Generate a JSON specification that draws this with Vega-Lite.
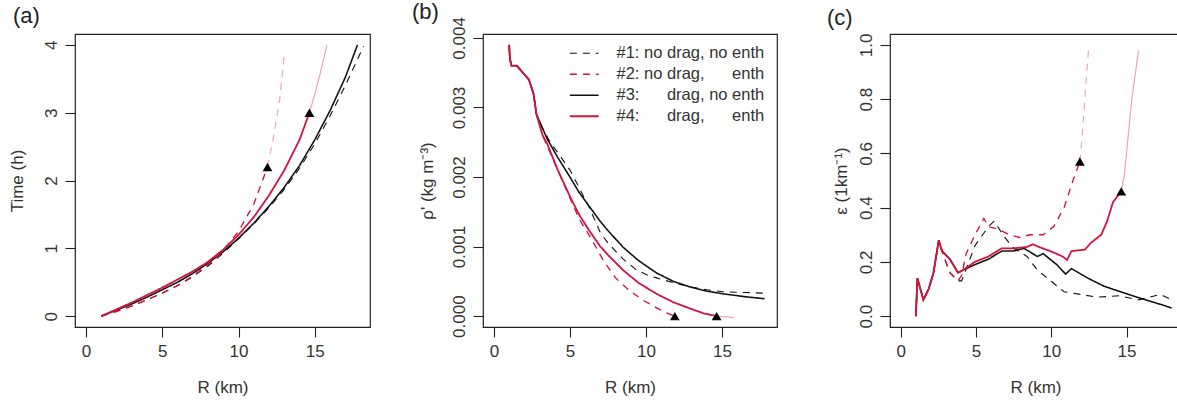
{
  "$schema": "https://vega.github.io/schema/vega-lite/v6.json",
  "autosize": {"type": "none"},
  "padding": {"left": 75, "top": 34, "right": 1102, "bottom": 368},
  "background": "white",
  "datasets": {
    "time": [
      {"run": "#1", "seg": "main", "R": 1, "v": 0}, {"run": "#1", "seg": "main", "R": 2, "v": 0.07}, {"run": "#1", "seg": "main", "R": 3, "v": 0.15}, {"run": "#1", "seg": "main", "R": 4, "v": 0.24}, {"run": "#1", "seg": "main", "R": 5, "v": 0.34}, {"run": "#1", "seg": "main", "R": 6, "v": 0.45}, {"run": "#1", "seg": "main", "R": 7, "v": 0.58}, {"run": "#1", "seg": "main", "R": 8, "v": 0.74}, {"run": "#1", "seg": "main", "R": 9, "v": 0.93}, {"run": "#1", "seg": "main", "R": 10, "v": 1.14}, {"run": "#1", "seg": "main", "R": 11, "v": 1.36}, {"run": "#1", "seg": "main", "R": 12, "v": 1.6}, {"run": "#1", "seg": "main", "R": 13, "v": 1.87}, {"run": "#1", "seg": "main", "R": 14, "v": 2.18}, {"run": "#1", "seg": "main", "R": 15, "v": 2.54}, {"run": "#1", "seg": "main", "R": 16, "v": 2.95}, {"run": "#1", "seg": "main", "R": 17, "v": 3.4}, {"run": "#1", "seg": "main", "R": 18.2, "v": 3.98},
      {"run": "#3", "seg": "main", "R": 1, "v": 0}, {"run": "#3", "seg": "main", "R": 2, "v": 0.09}, {"run": "#3", "seg": "main", "R": 3, "v": 0.18}, {"run": "#3", "seg": "main", "R": 4, "v": 0.28}, {"run": "#3", "seg": "main", "R": 5, "v": 0.39}, {"run": "#3", "seg": "main", "R": 6, "v": 0.5}, {"run": "#3", "seg": "main", "R": 7, "v": 0.63}, {"run": "#3", "seg": "main", "R": 8, "v": 0.78}, {"run": "#3", "seg": "main", "R": 9, "v": 0.95}, {"run": "#3", "seg": "main", "R": 10, "v": 1.15}, {"run": "#3", "seg": "main", "R": 11, "v": 1.37}, {"run": "#3", "seg": "main", "R": 12, "v": 1.62}, {"run": "#3", "seg": "main", "R": 13, "v": 1.9}, {"run": "#3", "seg": "main", "R": 14, "v": 2.22}, {"run": "#3", "seg": "main", "R": 15, "v": 2.6}, {"run": "#3", "seg": "main", "R": 16, "v": 3.03}, {"run": "#3", "seg": "main", "R": 17, "v": 3.52}, {"run": "#3", "seg": "main", "R": 17.8, "v": 4.0},
      {"run": "#2", "seg": "main", "R": 1, "v": 0}, {"run": "#2", "seg": "main", "R": 2, "v": 0.07}, {"run": "#2", "seg": "main", "R": 3, "v": 0.15}, {"run": "#2", "seg": "main", "R": 4, "v": 0.24}, {"run": "#2", "seg": "main", "R": 5, "v": 0.34}, {"run": "#2", "seg": "main", "R": 6, "v": 0.45}, {"run": "#2", "seg": "main", "R": 7, "v": 0.59}, {"run": "#2", "seg": "main", "R": 8, "v": 0.76}, {"run": "#2", "seg": "main", "R": 9, "v": 0.97}, {"run": "#2", "seg": "main", "R": 10, "v": 1.25}, {"run": "#2", "seg": "main", "R": 11, "v": 1.65}, {"run": "#2", "seg": "main", "R": 11.9, "v": 2.2},
      {"run": "#2", "seg": "ext", "R": 11.9, "v": 2.2}, {"run": "#2", "seg": "ext", "R": 12.3, "v": 2.65}, {"run": "#2", "seg": "ext", "R": 12.7, "v": 3.2}, {"run": "#2", "seg": "ext", "R": 13.0, "v": 3.85},
      {"run": "#4", "seg": "main", "R": 1, "v": 0}, {"run": "#4", "seg": "main", "R": 2, "v": 0.1}, {"run": "#4", "seg": "main", "R": 3, "v": 0.2}, {"run": "#4", "seg": "main", "R": 4, "v": 0.31}, {"run": "#4", "seg": "main", "R": 5, "v": 0.42}, {"run": "#4", "seg": "main", "R": 6, "v": 0.54}, {"run": "#4", "seg": "main", "R": 7, "v": 0.66}, {"run": "#4", "seg": "main", "R": 8, "v": 0.8}, {"run": "#4", "seg": "main", "R": 9, "v": 0.98}, {"run": "#4", "seg": "main", "R": 10, "v": 1.2}, {"run": "#4", "seg": "main", "R": 11, "v": 1.46}, {"run": "#4", "seg": "main", "R": 12, "v": 1.78}, {"run": "#4", "seg": "main", "R": 13, "v": 2.15}, {"run": "#4", "seg": "main", "R": 14, "v": 2.6}, {"run": "#4", "seg": "main", "R": 14.65, "v": 3.0},
      {"run": "#4", "seg": "ext", "R": 14.65, "v": 3.0}, {"run": "#4", "seg": "ext", "R": 15.0, "v": 3.27}, {"run": "#4", "seg": "ext", "R": 15.4, "v": 3.62}, {"run": "#4", "seg": "ext", "R": 15.8, "v": 4.0}
    ],
    "rho": [
      {"run": "#1", "seg": "main", "R": 1.0, "v": 0.0039}, {"run": "#1", "seg": "main", "R": 1.05, "v": 0.0037}, {"run": "#1", "seg": "main", "R": 1.15, "v": 0.0036}, {"run": "#1", "seg": "main", "R": 1.5, "v": 0.0036}, {"run": "#1", "seg": "main", "R": 1.9, "v": 0.0035}, {"run": "#1", "seg": "main", "R": 2.3, "v": 0.0034}, {"run": "#1", "seg": "main", "R": 2.6, "v": 0.0032}, {"run": "#1", "seg": "main", "R": 2.8, "v": 0.0029}, {"run": "#1", "seg": "main", "R": 3.2, "v": 0.0027}, {"run": "#1", "seg": "main", "R": 3.7, "v": 0.0025}, {"run": "#1", "seg": "main", "R": 4.2, "v": 0.00235}, {"run": "#1", "seg": "main", "R": 5.0, "v": 0.0021}, {"run": "#1", "seg": "main", "R": 5.6, "v": 0.00185}, {"run": "#1", "seg": "main", "R": 6.3, "v": 0.00155}, {"run": "#1", "seg": "main", "R": 7.0, "v": 0.0012}, {"run": "#1", "seg": "main", "R": 7.5, "v": 0.00105}, {"run": "#1", "seg": "main", "R": 8.5, "v": 0.00082}, {"run": "#1", "seg": "main", "R": 9.4, "v": 0.00066}, {"run": "#1", "seg": "main", "R": 10.2, "v": 0.00058}, {"run": "#1", "seg": "main", "R": 10.7, "v": 0.00055}, {"run": "#1", "seg": "main", "R": 11.8, "v": 0.00048}, {"run": "#1", "seg": "main", "R": 12.9, "v": 0.00042}, {"run": "#1", "seg": "main", "R": 14.0, "v": 0.00038}, {"run": "#1", "seg": "main", "R": 15.1, "v": 0.00035}, {"run": "#1", "seg": "main", "R": 16.5, "v": 0.00034}, {"run": "#1", "seg": "main", "R": 17.8, "v": 0.00033},
      {"run": "#3", "seg": "main", "R": 1.0, "v": 0.0039}, {"run": "#3", "seg": "main", "R": 1.05, "v": 0.0037}, {"run": "#3", "seg": "main", "R": 1.15, "v": 0.0036}, {"run": "#3", "seg": "main", "R": 1.5, "v": 0.0036}, {"run": "#3", "seg": "main", "R": 1.9, "v": 0.0035}, {"run": "#3", "seg": "main", "R": 2.3, "v": 0.0034}, {"run": "#3", "seg": "main", "R": 2.6, "v": 0.0032}, {"run": "#3", "seg": "main", "R": 2.8, "v": 0.0029}, {"run": "#3", "seg": "main", "R": 3.2, "v": 0.0027}, {"run": "#3", "seg": "main", "R": 3.5, "v": 0.00255}, {"run": "#3", "seg": "main", "R": 4.2, "v": 0.00228}, {"run": "#3", "seg": "main", "R": 5.0, "v": 0.002}, {"run": "#3", "seg": "main", "R": 5.6, "v": 0.00178}, {"run": "#3", "seg": "main", "R": 6.3, "v": 0.00157}, {"run": "#3", "seg": "main", "R": 7.0, "v": 0.00136}, {"run": "#3", "seg": "main", "R": 7.5, "v": 0.00123}, {"run": "#3", "seg": "main", "R": 8.5, "v": 0.00099}, {"run": "#3", "seg": "main", "R": 9.5, "v": 0.0008}, {"run": "#3", "seg": "main", "R": 10.7, "v": 0.00062}, {"run": "#3", "seg": "main", "R": 11.8, "v": 0.0005}, {"run": "#3", "seg": "main", "R": 12.9, "v": 0.00042}, {"run": "#3", "seg": "main", "R": 14.0, "v": 0.00036}, {"run": "#3", "seg": "main", "R": 15.1, "v": 0.00032}, {"run": "#3", "seg": "main", "R": 16.5, "v": 0.00028}, {"run": "#3", "seg": "main", "R": 17.8, "v": 0.00025},
      {"run": "#2", "seg": "main", "R": 1.0, "v": 0.0039}, {"run": "#2", "seg": "main", "R": 1.05, "v": 0.0037}, {"run": "#2", "seg": "main", "R": 1.15, "v": 0.0036}, {"run": "#2", "seg": "main", "R": 1.5, "v": 0.0036}, {"run": "#2", "seg": "main", "R": 1.9, "v": 0.0035}, {"run": "#2", "seg": "main", "R": 2.3, "v": 0.0034}, {"run": "#2", "seg": "main", "R": 2.6, "v": 0.0032}, {"run": "#2", "seg": "main", "R": 2.8, "v": 0.0029}, {"run": "#2", "seg": "main", "R": 3.2, "v": 0.0026}, {"run": "#2", "seg": "main", "R": 3.6, "v": 0.0024}, {"run": "#2", "seg": "main", "R": 4.2, "v": 0.0021}, {"run": "#2", "seg": "main", "R": 5.0, "v": 0.0017}, {"run": "#2", "seg": "main", "R": 5.6, "v": 0.0014}, {"run": "#2", "seg": "main", "R": 6.3, "v": 0.00115}, {"run": "#2", "seg": "main", "R": 7.2, "v": 0.0008}, {"run": "#2", "seg": "main", "R": 8.0, "v": 0.00055}, {"run": "#2", "seg": "main", "R": 8.9, "v": 0.00037}, {"run": "#2", "seg": "main", "R": 9.8, "v": 0.00023}, {"run": "#2", "seg": "main", "R": 10.7, "v": 0.00012}, {"run": "#2", "seg": "main", "R": 11.3, "v": 0.00005}, {"run": "#2", "seg": "main", "R": 11.9, "v": 0.0},
      {"run": "#4", "seg": "main", "R": 1.0, "v": 0.0039}, {"run": "#4", "seg": "main", "R": 1.05, "v": 0.0037}, {"run": "#4", "seg": "main", "R": 1.15, "v": 0.0036}, {"run": "#4", "seg": "main", "R": 1.5, "v": 0.0036}, {"run": "#4", "seg": "main", "R": 1.9, "v": 0.0035}, {"run": "#4", "seg": "main", "R": 2.3, "v": 0.0034}, {"run": "#4", "seg": "main", "R": 2.6, "v": 0.0032}, {"run": "#4", "seg": "main", "R": 2.8, "v": 0.0029}, {"run": "#4", "seg": "main", "R": 3.2, "v": 0.0026}, {"run": "#4", "seg": "main", "R": 3.5, "v": 0.00248}, {"run": "#4", "seg": "main", "R": 4.2, "v": 0.0021}, {"run": "#4", "seg": "main", "R": 5.0, "v": 0.00172}, {"run": "#4", "seg": "main", "R": 5.6, "v": 0.00146}, {"run": "#4", "seg": "main", "R": 6.3, "v": 0.00122}, {"run": "#4", "seg": "main", "R": 7.0, "v": 0.001}, {"run": "#4", "seg": "main", "R": 7.5, "v": 0.00088}, {"run": "#4", "seg": "main", "R": 8.5, "v": 0.00066}, {"run": "#4", "seg": "main", "R": 9.5, "v": 0.00048}, {"run": "#4", "seg": "main", "R": 10.7, "v": 0.00032}, {"run": "#4", "seg": "main", "R": 11.8, "v": 0.0002}, {"run": "#4", "seg": "main", "R": 12.9, "v": 0.00011}, {"run": "#4", "seg": "main", "R": 13.8, "v": 0.00004}, {"run": "#4", "seg": "main", "R": 14.65, "v": 0.0},
      {"run": "#4", "seg": "ext", "R": 14.65, "v": 0.0}, {"run": "#4", "seg": "ext", "R": 15.2, "v": -0.00001}, {"run": "#4", "seg": "ext", "R": 15.8, "v": -0.00002}
    ],
    "eps": [
      {"run": "#1", "seg": "main", "R": 1.0, "v": 0.0}, {"run": "#1", "seg": "main", "R": 1.1, "v": 0.14}, {"run": "#1", "seg": "main", "R": 1.5, "v": 0.06}, {"run": "#1", "seg": "main", "R": 1.85, "v": 0.1}, {"run": "#1", "seg": "main", "R": 2.17, "v": 0.16}, {"run": "#1", "seg": "main", "R": 2.52, "v": 0.28}, {"run": "#1", "seg": "main", "R": 2.86, "v": 0.22}, {"run": "#1", "seg": "main", "R": 3.26, "v": 0.16}, {"run": "#1", "seg": "main", "R": 3.8, "v": 0.13}, {"run": "#1", "seg": "main", "R": 4.04, "v": 0.13}, {"run": "#1", "seg": "main", "R": 4.93, "v": 0.26}, {"run": "#1", "seg": "main", "R": 5.82, "v": 0.33}, {"run": "#1", "seg": "main", "R": 6.21, "v": 0.35}, {"run": "#1", "seg": "main", "R": 6.91, "v": 0.29}, {"run": "#1", "seg": "main", "R": 7.5, "v": 0.25}, {"run": "#1", "seg": "main", "R": 8.39, "v": 0.22}, {"run": "#1", "seg": "main", "R": 9.07, "v": 0.17}, {"run": "#1", "seg": "main", "R": 9.96, "v": 0.13}, {"run": "#1", "seg": "main", "R": 10.85, "v": 0.09}, {"run": "#1", "seg": "main", "R": 11.94, "v": 0.08}, {"run": "#1", "seg": "main", "R": 13.02, "v": 0.07}, {"run": "#1", "seg": "main", "R": 14.5, "v": 0.075}, {"run": "#1", "seg": "main", "R": 15.78, "v": 0.06}, {"run": "#1", "seg": "main", "R": 17.26, "v": 0.08}, {"run": "#1", "seg": "main", "R": 18.0, "v": 0.06},
      {"run": "#3", "seg": "main", "R": 1.0, "v": 0.0}, {"run": "#3", "seg": "main", "R": 1.1, "v": 0.14}, {"run": "#3", "seg": "main", "R": 1.5, "v": 0.06}, {"run": "#3", "seg": "main", "R": 1.85, "v": 0.1}, {"run": "#3", "seg": "main", "R": 2.17, "v": 0.16}, {"run": "#3", "seg": "main", "R": 2.52, "v": 0.28}, {"run": "#3", "seg": "main", "R": 2.73, "v": 0.24}, {"run": "#3", "seg": "main", "R": 3.26, "v": 0.21}, {"run": "#3", "seg": "main", "R": 3.8, "v": 0.16}, {"run": "#3", "seg": "main", "R": 4.14, "v": 0.17}, {"run": "#3", "seg": "main", "R": 4.93, "v": 0.19}, {"run": "#3", "seg": "main", "R": 5.82, "v": 0.21}, {"run": "#3", "seg": "main", "R": 6.71, "v": 0.24}, {"run": "#3", "seg": "main", "R": 7.5, "v": 0.24}, {"run": "#3", "seg": "main", "R": 8.19, "v": 0.25}, {"run": "#3", "seg": "main", "R": 9.07, "v": 0.22}, {"run": "#3", "seg": "main", "R": 9.47, "v": 0.23}, {"run": "#3", "seg": "main", "R": 10.36, "v": 0.19}, {"run": "#3", "seg": "main", "R": 10.95, "v": 0.155}, {"run": "#3", "seg": "main", "R": 11.34, "v": 0.175}, {"run": "#3", "seg": "main", "R": 12.43, "v": 0.14}, {"run": "#3", "seg": "main", "R": 13.52, "v": 0.11}, {"run": "#3", "seg": "main", "R": 14.6, "v": 0.09}, {"run": "#3", "seg": "main", "R": 15.69, "v": 0.07}, {"run": "#3", "seg": "main", "R": 17.46, "v": 0.04}, {"run": "#3", "seg": "main", "R": 18.0, "v": 0.03},
      {"run": "#2", "seg": "main", "R": 1.0, "v": 0.0}, {"run": "#2", "seg": "main", "R": 1.1, "v": 0.14}, {"run": "#2", "seg": "main", "R": 1.5, "v": 0.06}, {"run": "#2", "seg": "main", "R": 1.85, "v": 0.1}, {"run": "#2", "seg": "main", "R": 2.17, "v": 0.16}, {"run": "#2", "seg": "main", "R": 2.52, "v": 0.28}, {"run": "#2", "seg": "main", "R": 2.86, "v": 0.22}, {"run": "#2", "seg": "main", "R": 3.26, "v": 0.16}, {"run": "#2", "seg": "main", "R": 3.8, "v": 0.13}, {"run": "#2", "seg": "main", "R": 4.04, "v": 0.15}, {"run": "#2", "seg": "main", "R": 4.34, "v": 0.23}, {"run": "#2", "seg": "main", "R": 4.93, "v": 0.3}, {"run": "#2", "seg": "main", "R": 5.52, "v": 0.36}, {"run": "#2", "seg": "main", "R": 5.82, "v": 0.33}, {"run": "#2", "seg": "main", "R": 6.51, "v": 0.32}, {"run": "#2", "seg": "main", "R": 7.2, "v": 0.3}, {"run": "#2", "seg": "main", "R": 7.89, "v": 0.29}, {"run": "#2", "seg": "main", "R": 8.58, "v": 0.3}, {"run": "#2", "seg": "main", "R": 9.47, "v": 0.3}, {"run": "#2", "seg": "main", "R": 10.16, "v": 0.33}, {"run": "#2", "seg": "main", "R": 10.85, "v": 0.4}, {"run": "#2", "seg": "main", "R": 11.44, "v": 0.5}, {"run": "#2", "seg": "main", "R": 11.9, "v": 0.57},
      {"run": "#2", "seg": "ext", "R": 11.9, "v": 0.57}, {"run": "#2", "seg": "ext", "R": 12.1, "v": 0.7}, {"run": "#2", "seg": "ext", "R": 12.3, "v": 0.86}, {"run": "#2", "seg": "ext", "R": 12.5, "v": 1.0},
      {"run": "#4", "seg": "main", "R": 1.0, "v": 0.0}, {"run": "#4", "seg": "main", "R": 1.1, "v": 0.14}, {"run": "#4", "seg": "main", "R": 1.5, "v": 0.06}, {"run": "#4", "seg": "main", "R": 1.85, "v": 0.1}, {"run": "#4", "seg": "main", "R": 2.17, "v": 0.16}, {"run": "#4", "seg": "main", "R": 2.52, "v": 0.28}, {"run": "#4", "seg": "main", "R": 2.73, "v": 0.24}, {"run": "#4", "seg": "main", "R": 3.26, "v": 0.21}, {"run": "#4", "seg": "main", "R": 3.8, "v": 0.16}, {"run": "#4", "seg": "main", "R": 4.14, "v": 0.17}, {"run": "#4", "seg": "main", "R": 4.93, "v": 0.2}, {"run": "#4", "seg": "main", "R": 5.82, "v": 0.22}, {"run": "#4", "seg": "main", "R": 6.71, "v": 0.25}, {"run": "#4", "seg": "main", "R": 7.5, "v": 0.25}, {"run": "#4", "seg": "main", "R": 8.39, "v": 0.255}, {"run": "#4", "seg": "main", "R": 8.78, "v": 0.265}, {"run": "#4", "seg": "main", "R": 9.17, "v": 0.255}, {"run": "#4", "seg": "main", "R": 10.06, "v": 0.237}, {"run": "#4", "seg": "main", "R": 10.75, "v": 0.22}, {"run": "#4", "seg": "main", "R": 11.05, "v": 0.207}, {"run": "#4", "seg": "main", "R": 11.34, "v": 0.24}, {"run": "#4", "seg": "main", "R": 12.23, "v": 0.245}, {"run": "#4", "seg": "main", "R": 12.63, "v": 0.27}, {"run": "#4", "seg": "main", "R": 13.32, "v": 0.3}, {"run": "#4", "seg": "main", "R": 13.71, "v": 0.35}, {"run": "#4", "seg": "main", "R": 14.1, "v": 0.42}, {"run": "#4", "seg": "main", "R": 14.65, "v": 0.46},
      {"run": "#4", "seg": "ext", "R": 14.65, "v": 0.46}, {"run": "#4", "seg": "ext", "R": 14.85, "v": 0.52}, {"run": "#4", "seg": "ext", "R": 15.0, "v": 0.6}, {"run": "#4", "seg": "ext", "R": 15.35, "v": 0.8}, {"run": "#4", "seg": "ext", "R": 15.8, "v": 0.98}
    ],
    "tri": [
      {"run": "#2", "R": 11.9, "time": 2.2, "rho": 0.0, "eps": 0.57},
      {"run": "#4", "R": 14.65, "time": 3.0, "rho": 0.0, "eps": 0.46}
    ]
  },
  "hconcat": [
    {
      "width": 295, "height": 293,
      "title": {"text": "(a)", "anchor": "start", "frame": "group", "dx": -62, "offset": 12, "dy": 23, "baseline": "alphabetic", "fontSize": 22, "fontWeight": "normal", "color": "#222"},
      "layer": [
        {
          "data": {"name": "time"},
          "transform": [{"filter": "datum.seg == 'main'"}],
          "mark": {"type": "line", "clip": true},
          "encoding": {
            "x": {"field": "R", "type": "quantitative", "scale": {"domain": [-0.72, 18.62], "nice": false, "zero": false}, "axis": {"values": [0, 5, 10, 15], "title": "R (km)"}},
            "y": {"field": "v", "type": "quantitative", "scale": {"domain": [-0.16, 4.16], "nice": false, "zero": false}, "axis": {"values": [0, 1, 2, 3, 4], "format": "d", "title": "Time (h)", "titleX": -58}},
            "color": {"field": "run", "type": "nominal", "scale": {"domain": ["#1", "#2", "#3", "#4"], "range": ["#111111", "#D2143C", "#111111", "#D2143C"]}, "legend": null},
            "strokeDash": {"field": "run", "type": "nominal", "scale": {"domain": ["#1", "#2", "#3", "#4"], "range": [[7, 6], [7, 6], [1, 0], [1, 0]]}, "legend": null},
            "strokeWidth": {"field": "run", "type": "nominal", "scale": {"domain": ["#1", "#2", "#3", "#4"], "range": [1.1, 1.8, 1.1, 1.8]}, "legend": null}
          }
        },
        {
          "data": {"name": "time"},
          "transform": [{"filter": "datum.seg == 'ext'"}],
          "mark": {"type": "line", "clip": true, "color": "#F4A3B6", "strokeWidth": 1.2},
          "encoding": {
            "x": {"field": "R", "type": "quantitative"},
            "y": {"field": "v", "type": "quantitative"},
            "detail": {"field": "run", "type": "nominal"},
            "strokeDash": {"field": "run", "type": "nominal", "legend": null}
          }
        },
        {
          "data": {"name": "tri"},
          "mark": {"type": "point", "shape": "triangle-up", "filled": true, "color": "#000000", "size": 95, "opacity": 1},
          "encoding": {
            "x": {"field": "R", "type": "quantitative"},
            "y": {"field": "time", "type": "quantitative"}
          }
        }
      ]
    },
    {
      "width": 294, "height": 293,
      "title": {"text": "(b)", "anchor": "start", "frame": "group", "dx": -71, "offset": 14, "dy": 38, "baseline": "alphabetic", "fontSize": 22, "fontWeight": "normal", "color": "#222"},
      "layer": [
        {
          "data": {"name": "rho"},
          "transform": [{"filter": "datum.seg == 'main'"}],
          "mark": {"type": "line", "clip": true},
          "encoding": {
            "x": {"field": "R", "type": "quantitative", "scale": {"domain": [-0.72, 18.62], "nice": false, "zero": false}, "axis": {"values": [0, 5, 10, 15], "title": "R (km)"}},
            "y": {"field": "v", "type": "quantitative", "scale": {"domain": [-0.000156, 0.004056], "nice": false, "zero": false}, "axis": {"values": [0, 0.001, 0.002, 0.003, 0.004], "format": ".3f", "title": "ρ' (kg m⁻³)", "titleX": -56}},
            "color": {"field": "run", "type": "nominal", "title": null, "scale": {"domain": ["#1", "#2", "#3", "#4"], "range": ["#111111", "#D2143C", "#111111", "#D2143C"]}},
            "strokeDash": {"field": "run", "type": "nominal", "title": null, "scale": {"domain": ["#1", "#2", "#3", "#4"], "range": [[7, 6], [7, 6], [1, 0], [1, 0]]}},
            "strokeWidth": {"field": "run", "type": "nominal", "title": null, "scale": {"domain": ["#1", "#2", "#3", "#4"], "range": [1.1, 1.8, 1.1, 1.8]},
              "legend": {
                "orient": "none", "legendX": 93, "legendY": 11, "padding": 0, "title": null,
                "symbolType": "M-2.4,0H2.4", "symbolSize": 144, "symbolFillColor": "transparent",
                "labelFontSize": 16.5, "labelColor": "#333333", "labelFont": "Liberation Sans", "labelOffset": 24, "rowPadding": 4,
                "labelLimit": 400,
                "labelExpr": "datum.label == '#1' ? '#1: no drag, no enth' : datum.label == '#2' ? '#2: no drag,\u00a0\u00a0\u00a0\u00a0\u00a0\u00a0enth' : datum.label == '#3' ? '#3:\u00a0\u00a0\u00a0\u00a0\u00a0\u00a0drag, no enth' : '#4:\u00a0\u00a0\u00a0\u00a0\u00a0\u00a0drag,\u00a0\u00a0\u00a0\u00a0\u00a0\u00a0enth'"
              }
            }
          }
        },
        {
          "data": {"name": "rho"},
          "transform": [{"filter": "datum.seg == 'ext'"}],
          "mark": {"type": "line", "clip": true, "color": "#F4A3B6", "strokeWidth": 1.2},
          "encoding": {
            "x": {"field": "R", "type": "quantitative"},
            "y": {"field": "v", "type": "quantitative"}
          }
        },
        {
          "data": {"name": "tri"},
          "mark": {"type": "point", "shape": "triangle-up", "filled": true, "color": "#000000", "size": 95, "opacity": 1},
          "encoding": {
            "x": {"field": "R", "type": "quantitative"},
            "y": {"field": "rho", "type": "quantitative"}
          }
        }
      ]
    },
    {
      "width": 291, "height": 293,
      "title": {"text": "(c)", "anchor": "start", "frame": "group", "dx": -63, "offset": 9, "dy": 23, "baseline": "alphabetic", "fontSize": 22, "fontWeight": "normal", "color": "#222"},
      "layer": [
        {
          "data": {"name": "eps"},
          "transform": [{"filter": "datum.seg == 'main'"}],
          "mark": {"type": "line", "clip": true},
          "encoding": {
            "x": {"field": "R", "type": "quantitative", "scale": {"domain": [-0.72, 18.62], "nice": false, "zero": false}, "axis": {"values": [0, 5, 10, 15], "title": "R (km)"}},
            "y": {"field": "v", "type": "quantitative", "scale": {"domain": [-0.04, 1.04], "nice": false, "zero": false}, "axis": {"values": [0, 0.2, 0.4, 0.6, 0.8, 1.0], "format": ".1f", "title": "ε (1km⁻¹)", "titleX": -49}},
            "color": {"field": "run", "type": "nominal", "scale": {"domain": ["#1", "#2", "#3", "#4"], "range": ["#111111", "#D2143C", "#111111", "#D2143C"]}, "legend": null},
            "strokeDash": {"field": "run", "type": "nominal", "scale": {"domain": ["#1", "#2", "#3", "#4"], "range": [[7, 6], [7, 6], [1, 0], [1, 0]]}, "legend": null},
            "strokeWidth": {"field": "run", "type": "nominal", "scale": {"domain": ["#1", "#2", "#3", "#4"], "range": [1.1, 1.8, 1.1, 1.8]}, "legend": null}
          }
        },
        {
          "data": {"name": "eps"},
          "transform": [{"filter": "datum.seg == 'ext'"}],
          "mark": {"type": "line", "clip": true, "color": "#F4A3B6", "strokeWidth": 1.2},
          "encoding": {
            "x": {"field": "R", "type": "quantitative"},
            "y": {"field": "v", "type": "quantitative"},
            "detail": {"field": "run", "type": "nominal"},
            "strokeDash": {"field": "run", "type": "nominal", "legend": null}
          }
        },
        {
          "data": {"name": "tri"},
          "mark": {"type": "point", "shape": "triangle-up", "filled": true, "color": "#000000", "size": 95, "opacity": 1},
          "encoding": {
            "x": {"field": "R", "type": "quantitative"},
            "y": {"field": "eps", "type": "quantitative"}
          }
        }
      ]
    }
  ],
  "spacing": 113,
  "bounds": "flush",
  "resolve": {"scale": {"color": "independent", "strokeDash": "independent", "strokeWidth": "independent", "x": "independent", "y": "independent"}, "legend": {"color": "independent", "strokeDash": "independent", "strokeWidth": "independent"}},
  "config": {
    "font": "Liberation Sans",
    "view": {"stroke": "#222222", "strokeWidth": 1.2},
    "axis": {
      "grid": false, "domain": false, "ticks": true, "tickSize": 10, "tickWidth": 1.1, "tickColor": "#222222",
      "labelFontSize": 17, "labelColor": "#333333", "labelFont": "Liberation Sans",
      "titleFontSize": 17, "titleColor": "#333333", "titleFont": "Liberation Sans", "titleFontWeight": "normal"
    },
    "axisX": {"labelPadding": 6, "titleY": 60, "titleBaseline": "middle", "labelFlush": false, "labelOverlap": false},
    "axisY": {"labelAngle": -90, "labelAlign": "center", "labelBaseline": "bottom", "labelPadding": 5, "labelFlush": false, "labelOverlap": false, "titleY": 146.5, "titleBaseline": "middle", "titleAlign": "center", "titleAngle": -90}
  }
}
